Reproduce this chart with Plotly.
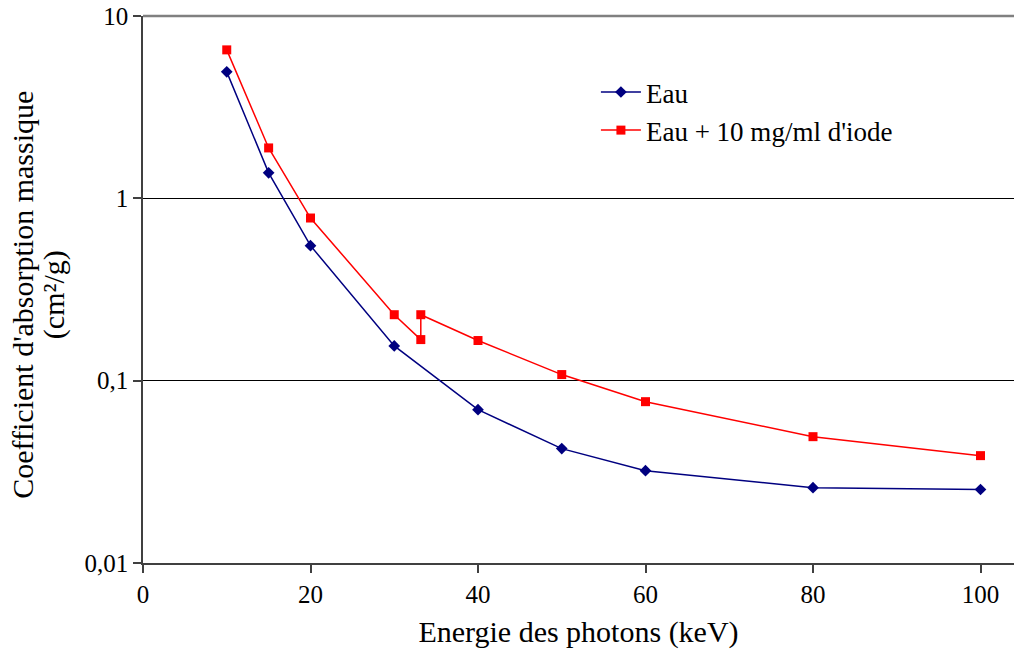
import plotly.graph_objects as go

# energies in keV
energie_eau = [10, 15, 20, 30, 40, 50, 60, 80, 100]
coef_eau = [4.94, 1.38, 0.55, 0.155, 0.0693, 0.0424, 0.0321, 0.0259, 0.0253]

energie_iode = [10, 15, 20, 30, 33.17, 33.17, 40, 50, 60, 80, 100]
coef_iode = [6.52, 1.89, 0.78, 0.230, 0.168, 0.230, 0.166, 0.108, 0.0767, 0.0493, 0.0388]

y_ticks = [0.01, 0.1, 1, 10]
y_ticktext = ["0,01", "0,1", "1", "10"]
x_ticks = [0, 20, 40, 60, 80, 100]

font_serif = "Liberation Serif"

fig = go.Figure()
fig.add_trace(go.Scatter(x=energie_eau, y=coef_eau, mode='lines+markers', name='Eau',
                         line=dict(color='#000080', width=1.5),
                         marker=dict(symbol='diamond', size=9, color='#000080')))
fig.add_trace(go.Scatter(x=energie_iode, y=coef_iode, mode='lines+markers',
                         name="Eau + 10 mg/ml d'iode",
                         line=dict(color='#ff0000', width=1.5),
                         marker=dict(symbol='square', size=9, color='#ff0000')))

# grey frame line on top of the plot area
fig.add_shape(type='line', xref='paper', yref='paper', x0=0, x1=1, y0=1, y1=1,
              line=dict(color='#808080', width=2.5), layer='above')

# y title as two rotated lines (tighter line spacing than plotly's default)
fig.add_annotation(text="Coefficient d'absorption massique", textangle=-90,
                   xref='paper', yref='paper', x=-0.138, y=0.49,
                   xanchor='center', yanchor='middle', showarrow=False,
                   font=dict(size=30))
fig.add_annotation(text="(cm²/g)", textangle=-90,
                   xref='paper', yref='paper', x=-0.102, y=0.49,
                   xanchor='center', yanchor='middle', showarrow=False,
                   font=dict(size=30))

fig.update_layout(
    width=1015, height=659,
    margin=dict(l=143, r=1, t=16, b=96),
    paper_bgcolor='white', plot_bgcolor='white',
    font=dict(family=font_serif, size=25, color='black'),
    showlegend=True,
    legend=dict(x=0.52, y=0.905, xanchor='left', yanchor='top',
                font=dict(size=27), bgcolor='rgba(0,0,0,0)', tracegroupgap=0,
                itemwidth=40),
    xaxis=dict(range=[0, 104], tickvals=x_ticks, showgrid=False, zeroline=False,
               automargin=False,
               showline=True, linecolor='#404040', linewidth=1.5,
               ticks='outside', ticklen=8, tickcolor='#404040', tickwidth=1.5,
               title=dict(text='Energie des photons (keV)', font=dict(size=30), standoff=14)),
    yaxis=dict(type='log', range=[-2, 1], tickvals=y_ticks, ticktext=y_ticktext,
               ticklabeloverflow='allow', automargin=False,
               showgrid=True, gridcolor='black', gridwidth=1, zeroline=False,
               showline=True, linecolor='#404040', linewidth=1.5,
               ticks='outside', ticklen=8, tickcolor='#404040', tickwidth=1.5),
)

# drop the default page margin so the figure sits at the window corner
fig.write_html("out.html", config={'displayModeBar': False},
               post_script="document.body.style.margin='0';")
